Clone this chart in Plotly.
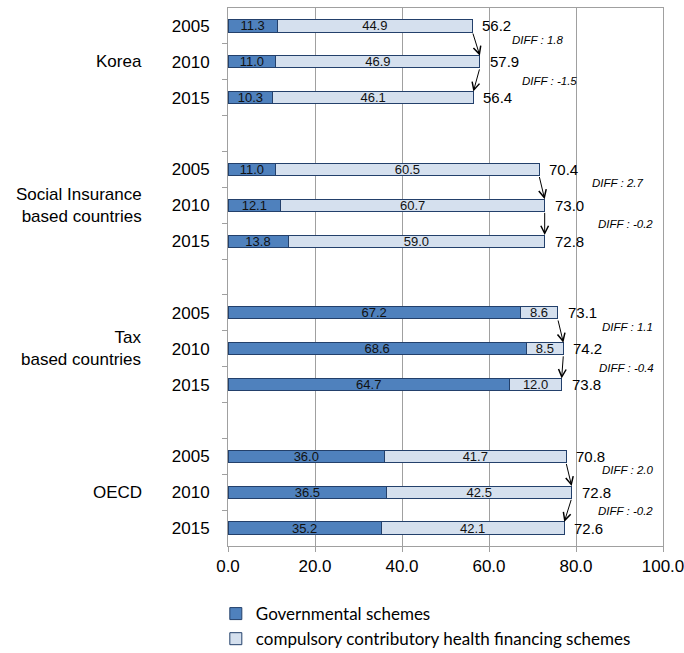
import plotly.graph_objects as go

# ---------------- data ----------------
groups = ["Korea", "Social Insurance<br>based countries", "Tax<br>based countries", "OECD"]
years = ["2005", "2010", "2015"]
gov = [11.3, 11.0, 10.3, 11.0, 12.1, 13.8, 67.2, 68.6, 64.7, 36.0, 36.5, 35.2]
comp = [44.9, 46.9, 46.1, 60.5, 60.7, 59.0, 8.6, 8.5, 12.0, 41.7, 42.5, 42.1]
totals = [56.2, 57.9, 56.4, 70.4, 73.0, 72.8, 73.1, 74.2, 73.8, 70.8, 72.8, 72.6]
diffs = [[1.8, -1.5], [2.7, -0.2], [1.1, -0.4], [2.0, -0.2]]
x_ticks = [0, 20, 40, 60, 80, 100]

# ------------- styling / positions -------------
DARK = "#4F81BD"
LIGHT = "#D5E0EE"
EDGE = "#23406B"
GRID = "#A0A0A0"
FONT = "Liberation Sans"
BAR_W = 0.34
DIFF_X = [[64.8, 67.1], [83.2, 84.6], [85.5, 84.8], [85.5, 84.6]]
DIFF_YSHIFT = [4, -1]

ypos = [g * 4 + k for g in range(len(groups)) for k in range(len(years))]
ylab = [years[k] for g in range(len(groups)) for k in range(len(years))]
ends = [a + b for a, b in zip(gov, comp)]

fig = go.Figure()
fig.add_trace(go.Bar(
    name="Governmental schemes", x=gov, y=ypos, orientation="h", width=BAR_W,
    marker=dict(color=DARK, line=dict(color=EDGE, width=1)),
    text=[f"{v:.1f}" for v in gov], textposition="inside", insidetextanchor="middle",
    constraintext="none", textfont=dict(size=13, color="#111111", family=FONT),
    hoverinfo="skip"))
fig.add_trace(go.Bar(
    name="compulsory contributory health financing schemes", x=comp, y=ypos,
    orientation="h", width=BAR_W,
    marker=dict(color=LIGHT, line=dict(color=EDGE, width=1)),
    text=[f"{v:.1f}" for v in comp], textposition="inside", insidetextanchor="middle",
    constraintext="none", textfont=dict(size=13, color="#111111", family=FONT),
    hoverinfo="skip"))

ann = []
# totals
for e, t, y in zip(ends, totals, ypos):
    ann.append(dict(x=e, y=y, text=f"{t:.1f}", showarrow=False, xanchor="left",
                    xshift=8, font=dict(size=15, color="black", family=FONT)))
# group labels
for g, name in enumerate(groups):
    ann.append(dict(x=0, xref="paper", y=g * 4 + 1, text=name, showarrow=False,
                    xanchor="right", align="right", xshift=-84,
                    font=dict(size=17, color="black", family=FONT)))
# arrows and diff labels
for g in range(len(groups)):
    for k in range(2):
        i = g * 3 + k
        y0 = ypos[i]
        y1 = ypos[i + 1]
        ann.append(dict(x=ends[i + 1], y=y1 - BAR_W / 2, ax=ends[i], ay=y0 + BAR_W / 2,
                        axref="x", ayref="y", xref="x", yref="y", text="",
                        showarrow=True, arrowhead=5, arrowsize=1.5, arrowwidth=1,
                        arrowcolor="black", standoff=0, startstandoff=0))
        ann.append(dict(x=DIFF_X[g][k], y=(y0 + y1) / 2, text=f"DIFF : {diffs[g][k]:.1f}",
                        showarrow=False, xanchor="left", yshift=DIFF_YSHIFT[k],
                        font=dict(size=11.5, color="black", family=FONT, style="italic")))

fig.update_layout(
    barmode="stack",
    width=684, height=653,
    margin=dict(l=228, r=21, t=8, b=107, autoexpand=False),
    plot_bgcolor="white", paper_bgcolor="white",
    annotations=ann,
    showlegend=True,
    legend=dict(orientation="v", x=-0.028, xanchor="left", y=-0.093, yanchor="top",
                traceorder="normal",
                font=dict(size=17, family="Lato, Calibri, sans-serif", color="black"),
                tracegroupgap=0, itemclick=False, bgcolor="rgba(0,0,0,0)"),
    xaxis=dict(range=[0, 100], tickvals=x_ticks, ticktext=[f"{v:.1f}" for v in x_ticks],
               showgrid=True, gridcolor=GRID, gridwidth=1, zeroline=False,
               showline=True, linecolor=GRID, linewidth=1, mirror=True,
               ticks="outside", ticklen=5, tickcolor=GRID, ticklabeloverflow="allow",
               tickfont=dict(size=17, color="black", family=FONT)),
    yaxis=dict(range=[14.5, -0.5], tickvals=ypos, ticktext=ylab, ticks="",
               showgrid=False, zeroline=False, showline=True, linecolor=GRID,
               linewidth=1, mirror=True, ticklabelstandoff=14,
               tickfont=dict(size=17, color="black", family=FONT),
               minor=dict(tickvals=[k + 0.5 for k in range(14)], ticks="outside",
                          ticklen=5, tickcolor=GRID, showgrid=False)),
)

fig.write_html("out.html")
